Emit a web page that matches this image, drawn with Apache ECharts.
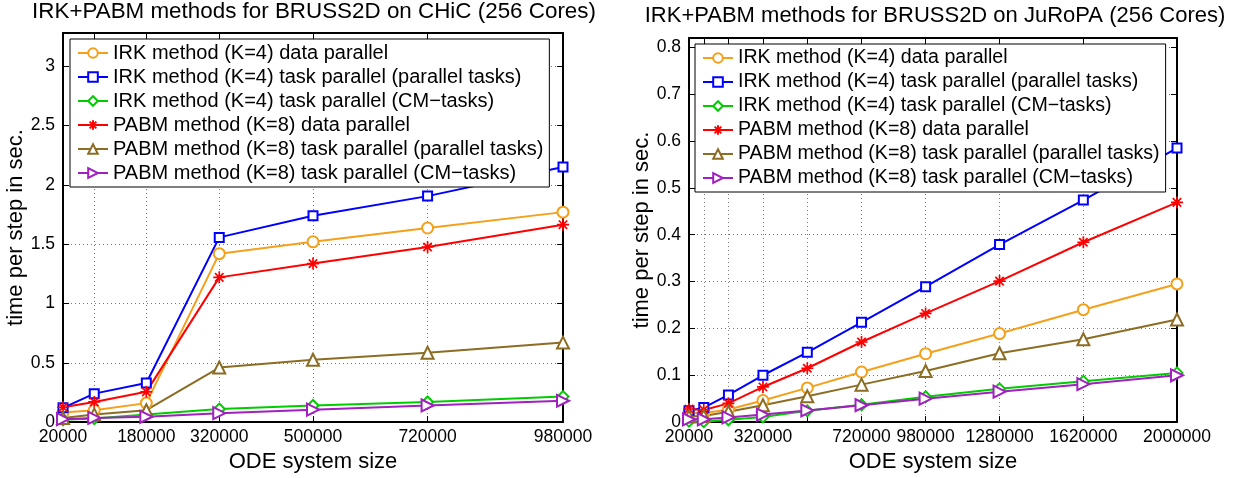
<!DOCTYPE html>
<html>
<head>
<meta charset="utf-8">
<script src="https://cdn.jsdelivr.net/npm/echarts@6/dist/echarts.min.js"></script>
<style>
  html, body { margin: 0; padding: 0; background: #fff; }
  #chart { width: 1238px; height: 478px; }
</style>
</head>
<body>
<div id="chart"></div>
<script>
// ODE system sizes (x values)
const sizesChic = [20000, 80000, 180000, 320000, 500000, 720000, 980000];
const sizesJuropa = [20000, 80000, 180000, 320000, 500000, 720000, 980000, 1280000, 1620000, 2000000];

// tick labels shown under each x axis
const labelsChic = [20000, 180000, 320000, 500000, 720000, 980000];
const labelsJuropa = [20000, 320000, 720000, 980000, 1280000, 1620000, 2000000];

const seriesNames = [
  'IRK method (K=4) data parallel',
  'IRK method (K=4) task parallel (parallel tasks)',
  'IRK method (K=4) task parallel (CM\u2212tasks)',
  'PABM method (K=8) data parallel',
  'PABM method (K=8) task parallel (parallel tasks)',
  'PABM method (K=8) task parallel (CM\u2212tasks)'
];

// CHiC, time per step in sec.
const chicIrkData = [0.08, 0.10, 0.16, 1.42, 1.52, 1.636, 1.77];
const chicIrkTask = [0.12, 0.24, 0.33, 1.557, 1.74, 1.905, 2.15];
const chicIrkCM = [0.02, 0.03, 0.065, 0.11, 0.14, 0.17, 0.215];
const chicPabmData = [0.125, 0.17, 0.255, 1.22, 1.336, 1.476, 1.664];
const chicPabmTask = [0.035, 0.065, 0.10, 0.46, 0.525, 0.585, 0.67];
const chicPabmCM = [0.025, 0.035, 0.045, 0.075, 0.105, 0.14, 0.18];

// JuRoPA, time per step in sec.
const jurIrkData = [0.02, 0.019, 0.027, 0.046, 0.073, 0.107, 0.146, 0.189, 0.24, 0.295];
const jurIrkTask = [0.024, 0.031, 0.058, 0.10, 0.149, 0.213, 0.289, 0.379, 0.474, 0.585];
const jurIrkCM = [0.002, 0.001, 0.005, 0.011, 0.024, 0.037, 0.054, 0.071, 0.087, 0.105];
const jurPabmData = [0.028, 0.026, 0.04, 0.075, 0.115, 0.171, 0.232, 0.301, 0.384, 0.469];
const jurPabmTask = [0.012, 0.013, 0.022, 0.036, 0.055, 0.08, 0.109, 0.147, 0.177, 0.219];
const jurPabmCM = [0.006, 0.006, 0.01, 0.016, 0.025, 0.036, 0.05, 0.065, 0.081, 0.1];

const FONT = 'Liberation Sans, Arial, sans-serif';
const colors = ['#f5a01a', '#0000ff', '#00cc00', '#ff0000', '#8c6d23', '#a020c0'];
const asterisk = 'path://M0,-10L0,10M-10,0L10,0M-7,-7L7,7M-7,7L7,-7';
const symbols = ['emptyCircle', 'emptyRect', 'emptyDiamond', asterisk, 'emptyTriangle', 'emptyTriangle'];
const symSizes = [11, 9, 11, 12, 12, 12];
const rotates = [0, 0, 0, 0, 0, -90];

function mkSeries(values, xs, idx, gi) {
  return {
    name: seriesNames[idx],
    type: 'line',
    xAxisIndex: gi * 2,
    yAxisIndex: gi * 2,
    data: xs.map((x, i) => [x, values[i]]),
    color: colors[idx],
    symbol: symbols[idx],
    symbolSize: symSizes[idx],
    symbolRotate: rotates[idx],
    showAllSymbol: true,
    lineStyle: { width: 2, color: colors[idx] },
    itemStyle: { color: colors[idx], borderColor: colors[idx], borderWidth: 1.7 },
    animation: false
  };
}

function xAxes(gi, max, ticks, labels) {
  const base = {
    type: 'value', gridIndex: gi, min: 20000, max: max,
    axisLine: { onZero: false, lineStyle: { color: '#000', width: 2 } },
    axisTick: { inside: true, length: 6, customValues: ticks, lineStyle: { color: '#000', width: 1 } }
  };
  return [
    Object.assign({}, base, {
      position: 'bottom',
      name: 'ODE system size', nameLocation: 'middle', nameGap: gi ? 22 : 23,
      nameTextStyle: { fontSize: 22, color: '#000', fontFamily: FONT },
      axisLabel: { customValues: labels, formatter: v => String(v), fontSize: 17.5, color: '#000', fontFamily: FONT, margin: 6 },
      splitLine: { show: true, lineStyle: { type: [1, 3], color: '#777', width: 1 } }
    }),
    Object.assign({}, base, {
      position: 'top',
      axisLabel: { show: false },
      splitLine: { show: false }
    })
  ];
}

function yAxes(gi, max, interval) {
  const base = {
    type: 'value', gridIndex: gi, min: 0, max: max, interval: interval,
    axisLine: { show: true, onZero: false, lineStyle: { color: '#000', width: 2 } },
    axisTick: { show: true, inside: true, length: 6, lineStyle: { color: '#000', width: 1 } }
  };
  return [
    Object.assign({}, base, {
      position: 'left',
      name: 'time per step in sec.', nameLocation: 'middle', nameGap: 28,
      nameTextStyle: { fontSize: 22, color: '#000', fontFamily: FONT },
      axisLabel: { fontSize: 17.5, color: '#000', fontFamily: FONT, margin: 8, showMaxLabel: false },
      splitLine: { show: true, lineStyle: { type: [1, 3], color: '#777', width: 1 } }
    }),
    Object.assign({}, base, {
      position: 'right',
      axisLabel: { show: false },
      splitLine: { show: false }
    })
  ];
}

function mkLegend(left, top, size) {
  return {
    orient: 'vertical', left: left, top: top,
    data: seriesNames,
    itemWidth: 30, itemHeight: 12, itemGap: 4,
    padding: [4, 6, 4, 7],
    backgroundColor: '#fff', borderColor: '#000', borderWidth: 1,
    textStyle: { fontSize: size, color: '#000', fontFamily: FONT },
    selectedMode: false
  };
}

const chart = echarts.init(document.getElementById('chart'), null, { renderer: 'canvas' });

const chicSets = [chicIrkData, chicIrkTask, chicIrkCM, chicPabmData, chicPabmTask, chicPabmCM];
const jurSets = [jurIrkData, jurIrkTask, jurIrkCM, jurPabmData, jurPabmTask, jurPabmCM];

const option = {
  backgroundColor: '#fff',
  animation: false,
  title: [
    { text: 'IRK+PABM methods for BRUSS2D on CHiC (256 Cores)', left: 314, top: 1, textAlign: 'center', padding: 0,
      textStyle: { fontSize: 22.4, fontWeight: 'normal', color: '#000', fontFamily: FONT } },
    { text: 'IRK+PABM methods for BRUSS2D on JuRoPA (256 Cores)', left: 935, top: 5, textAlign: 'center', padding: 0,
      textStyle: { fontSize: 22, fontWeight: 'normal', color: '#000', fontFamily: FONT } }
  ],
  legend: [mkLegend(70, 39, 20), mkLegend(695, 44, 19.6)],
  grid: [
    { left: 63, top: 33, width: 500, height: 395 },
    { left: 689, top: 38, width: 488, height: 385 }
  ],
  xAxis: xAxes(0, 980000, sizesChic, labelsChic).concat(xAxes(1, 2000000, sizesJuropa, labelsJuropa)),
  yAxis: yAxes(0, 3.28, 0.5).concat(yAxes(1, 0.82, 0.1)),
  series: chicSets.map((d, i) => mkSeries(d, sizesChic, i, 0))
    .concat(jurSets.map((d, i) => mkSeries(d, sizesJuropa, i, 1)))
};

chart.setOption(option);
</script>
</body>
</html>
